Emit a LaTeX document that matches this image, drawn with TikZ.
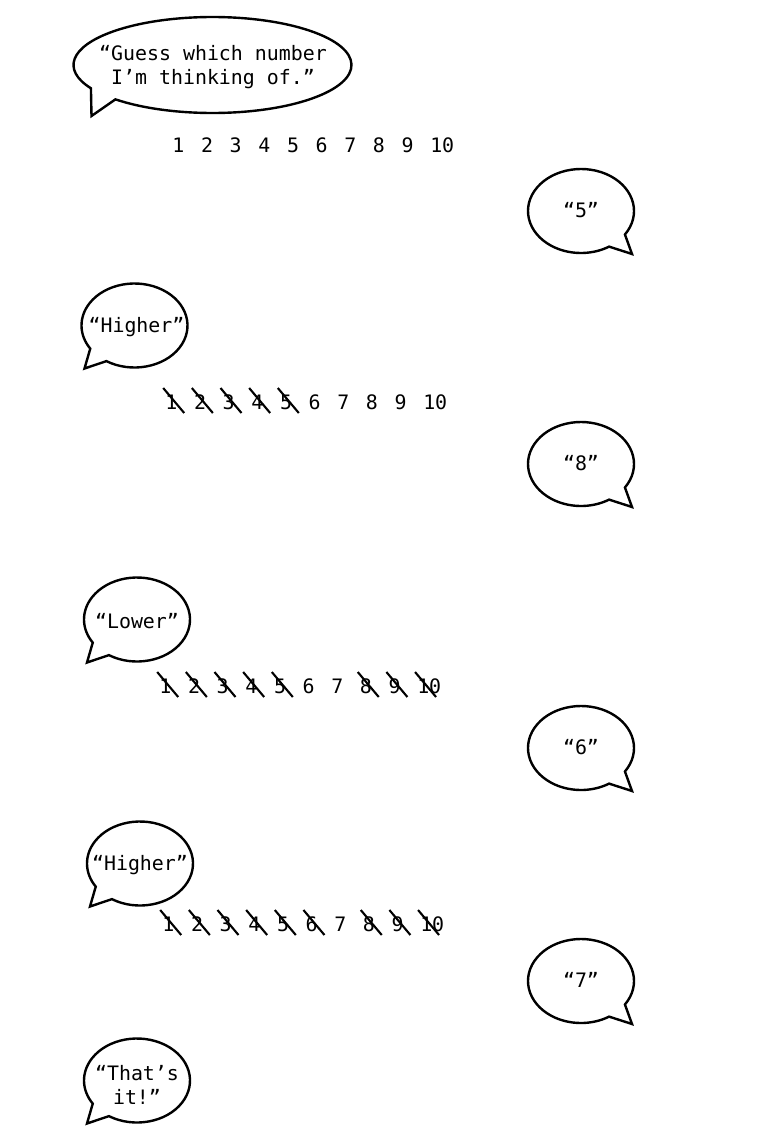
\documentclass[tikz,border=0pt]{standalone}
\usepackage{fontspec}
\setmonofont{DejaVu Sans Mono}
\tikzset{
  bub/.style={draw, line width=2.4pt},
  txt/.style={font=\fontsize{19.9}{23.5}\selectfont\ttfamily, inner sep=0pt, align=center},
  num/.style={font=\fontsize{19.9}{23.5}\selectfont\ttfamily, inner sep=0pt, anchor=west},
  strike/.style={line width=2.1pt}
}
\newcommand\rbubble[1]{\draw[bub] ([shift={(-34:53pt and 42pt)}]#1) arc[start angle=-34, end angle=302, x radius=53pt, y radius=42pt] -- ([shift={(51pt,-43pt)}]#1) -- cycle;}
\newcommand\lbubble[1]{\draw[bub] ([shift={(238:53pt and 42pt)}]#1) arc[start angle=238, end angle=573.4, x radius=53pt, y radius=42pt] -- ([shift={(-50pt,-43pt)}]#1) -- cycle;}
\newcommand\strikeout[1]{\draw[strike] ([shift={(-2pt,14pt)}]#1.west) -- ([shift={(19pt,-11pt)}]#1.west);}
\begin{document}
\begin{tikzpicture}[x=1pt,y=1pt]
\useasboundingbox (0,0) rectangle (759,-1140);
% top bubble
\coordinate (cq) at (212.5,-65);
\node[txt] (q) at (213,-67) {“Guess which number\\I’m thinking of.”};
\draw[bub] ([shift={(225.7:139pt and 48pt)}]cq) arc[start angle=225.7, end angle=569, x radius=139pt, y radius=48pt] -- ([shift={(-121pt,-51pt)}]cq) -- cycle;
% number rows
\foreach \i in {1,...,10} {
  \node[num] (ra\i) at ({172.2+(\i-1)*28.65},-145) {\i};
  \node[num] (rb\i) at ({165.2+(\i-1)*28.65},-402) {\i};
  \node[num] (rc\i) at ({159.2+(\i-1)*28.65},-686) {\i};
  \node[num] (rd\i) at ({162.2+(\i-1)*28.65},-924) {\i};
}
\foreach \i in {1,...,5} {\strikeout{rb\i}}
\foreach \i in {1,2,3,4,5,8,9,10} {\strikeout{rc\i}}
\foreach \i in {1,2,3,4,5,6,8,9,10} {\strikeout{rd\i}}
% guesses (right)
\coordinate (c5) at (581,-211);
\coordinate (c8) at (581,-464);
\coordinate (c6) at (581,-748);
\coordinate (c7) at (581,-981);
\node[txt] (g5) at (581,-210) {“5”};
\node[txt] (g8) at (581,-463) {“8”};
\node[txt] (g6) at (581,-747) {“6”};
\node[txt] (g7) at (581,-980) {“7”};
\rbubble{c5}\rbubble{c8}\rbubble{c6}\rbubble{c7}
% answers (left)
\coordinate (d1) at (134.5,-325.5);
\coordinate (d2) at (137,-619.5);
\coordinate (d3) at (140,-863.5);
\coordinate (d4) at (137,-1080.5);
\node[txt] (a1) at (136.5,-327) {“Higher”};
\node[txt] (a2) at (137,-621) {“Lower”};
\node[txt] (a3) at (140,-865) {“Higher”};
\node[txt] (a4) at (137,-1085) {“That’s\\it!”};
\lbubble{d1}\lbubble{d2}\lbubble{d3}\lbubble{d4}
\end{tikzpicture}
\end{document}
